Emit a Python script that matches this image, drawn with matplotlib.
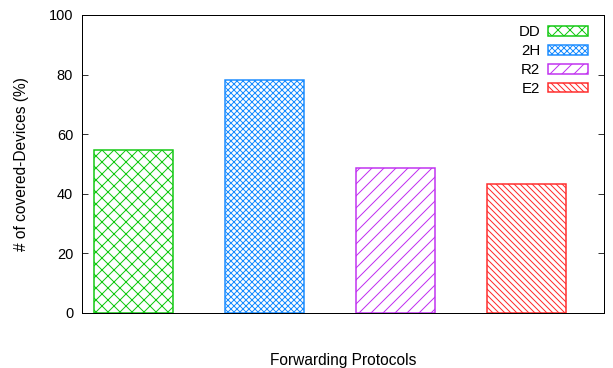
import numpy as np
import matplotlib
matplotlib.use("Agg")
import matplotlib.pyplot as plt

# protocols and coverage (%)
PROTOCOLS = ["DD", "2H", "R2", "E2"]
COVERED = [54.8, 78.2, 48.5, 43.3]

COLORS = ["#10c810", "#1a8cff", "#c030f0", "#ff2a2a"]
HATCHES = ["xx", "xxxx", "//", "\\\\\\\\"]

plt.rcParams['font.family'] = ['Liberation Sans', 'DejaVu Sans']
plt.rcParams['hatch.linewidth'] = 1.0

DPI = 72
fig = plt.figure(figsize=(613 / DPI, 368 / DPI), dpi=DPI)
ax = fig.add_axes([82 / 613, 1 - 313 / 368, 522 / 613, 298 / 368])

x = np.arange(1, len(PROTOCOLS) + 1)
for xi, val, name, c, h in zip(x, COVERED, PROTOCOLS, COLORS, HATCHES):
	ax.bar(xi, val, width=0.6, facecolor="white", edgecolor=c,
		hatch=h, linewidth=1.5, label=name)

ax.set_xlim(0.607, 4.59)
ax.set_ylim(0, 100)
ax.set_yticks([0, 20, 40, 60, 80, 100])
ax.set_xticks([])
ax.tick_params(axis="y", direction="in", length=6, right=True, labelsize=14.5, pad=9)
for s in ax.spines.values():
	s.set_linewidth(1.0)

ax.set_xlabel("Forwarding Protocols", fontsize=15.5, labelpad=40)
ax.set_ylabel("# of covered-Devices (%)", fontsize=15.5, labelpad=20)

ax.legend(loc="upper right", frameon=False, markerfirst=False, fontsize=15,
	handlelength=2.7, handleheight=0.6, labelspacing=0.32,
	handletextpad=0.5, borderaxespad=0.3, bbox_to_anchor=(0.99, 1.0))

fig.savefig("out.png", dpi=DPI)
